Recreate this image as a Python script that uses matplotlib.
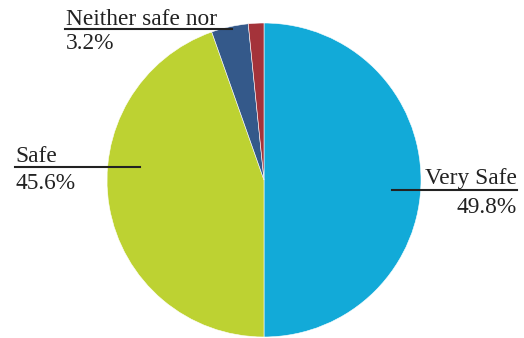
import matplotlib.pyplot as plt

# pie data (slice sizes, label texts as printed)
labels = ["Very Safe", "Safe", "Neither safe nor", ""]
values = [50.0, 44.6, 3.8, 1.6]
pct_text = ["49.8%", "45.6%", "3.2%", ""]
colors = ["#12aad8", "#bdd232", "#34598a", "#a4333a"]

W, H = 524, 338
fig = plt.figure(figsize=(W / 100, H / 100), dpi=100)
ax = fig.add_axes([0, 0, 1, 1])

ax.pie(values, colors=colors, startangle=90, counterclock=False,
       center=(264, H - 180), radius=157,
       wedgeprops=dict(linewidth=0.4, edgecolor="white"))
ax.set_xlim(0, W)
ax.set_ylim(0, H)
ax.set_aspect("equal")
ax.axis("off")

font = dict(family="Liberation Serif", fontsize=16.8, color="#222222")
lc = "#222222"

# Very Safe label (right)
ax.plot([392, 517], [H - 190, H - 190], color=lc, lw=1.5)
ax.text(517, H - 184, labels[0], ha="right", va="baseline", **font)
ax.text(517, H - 213, pct_text[0], ha="right", va="baseline", **font)

# Safe label (left)
ax.plot([15, 140], [H - 167, H - 167], color=lc, lw=1.5)
ax.text(15, H - 162, labels[1], ha="left", va="baseline", **font)
ax.text(15, H - 189, pct_text[1], ha="left", va="baseline", **font)

# Neither label (top)
ax.plot([65, 232], [H - 29, H - 29], color=lc, lw=1.5)
ax.text(66, H - 25, labels[2], ha="left", va="baseline", **font)
ax.text(66, H - 49, pct_text[2], ha="left", va="baseline", **font)

fig.savefig("out.png", dpi=100)
